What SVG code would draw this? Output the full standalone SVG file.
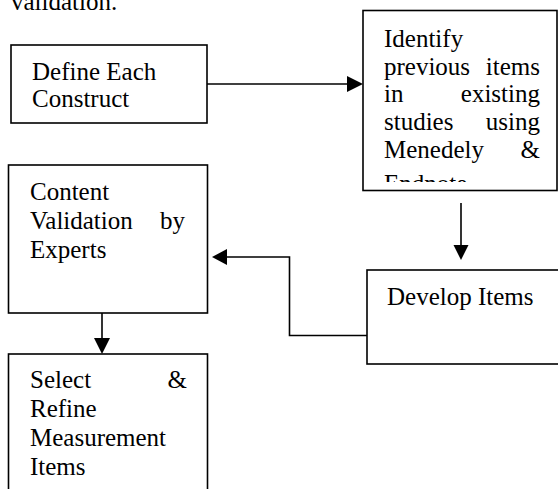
<svg xmlns="http://www.w3.org/2000/svg" width="558" height="489" viewBox="0 0 558 489">
<style>
text{font-family:"Liberation Serif","Times New Roman",serif;font-size:25px;fill:#000}
.box{fill:#fff;stroke:#000;stroke-width:1.6}
.ln{fill:none;stroke:#000;stroke-width:1.6}
.ah{fill:#000;stroke:none}
.e{text-anchor:end}
</style>
<defs>
<clipPath id="clipId"><rect x="364" y="12" width="192" height="170"/></clipPath>
</defs>
<rect width="558" height="489" fill="#fff"/>
<text x="11" y="10">validation.</text>
<g id="connectors">
<line class="ln" x1="207" y1="84" x2="348" y2="84"/>
<polygon class="ah" points="347,76 363,84 347,92"/>
<line class="ln" x1="461" y1="203" x2="461" y2="246"/>
<polygon class="ah" points="453.5,245 461,260 468.5,245"/>
<polyline class="ln" points="367,335.5 289.5,335.5 289.5,257 226,257"/>
<polygon class="ah" points="227,249 212,257 227,265"/>
<line class="ln" x1="102" y1="307" x2="102" y2="339"/>
<polygon class="ah" points="94,338 102,354 110,338"/>
</g>
<g id="define">
<rect class="box" x="11" y="45" width="196" height="78"/>
<text x="32" y="80">Define Each</text>
<text x="32" y="107">Construct</text>
</g>
<g id="identify">
<rect class="box" x="363" y="10.5" width="194" height="180"/>
<g clip-path="url(#clipId)">
<text x="384" y="47">Identify</text>
<text x="384" y="75">previous</text><text class="e" x="540" y="75">items</text>
<text x="384" y="102">in</text><text class="e" x="540" y="102">existing</text>
<text x="384" y="130">studies</text><text class="e" x="540" y="130">using</text>
<text x="384" y="158">Menedely</text><text class="e" x="540" y="158">&amp;</text>
<text x="384" y="192">Endnote</text>
</g>
</g>
<g id="content">
<rect class="box" x="8.5" y="165" width="199" height="148"/>
<text x="30" y="200">Content</text>
<text x="30" y="229">Validation</text><text class="e" x="185" y="229">by</text>
<text x="30" y="258">Experts</text>
</g>
<g id="develop">
<rect class="box" x="367" y="270" width="200" height="94"/>
<text x="387" y="305">Develop Items</text>
</g>
<g id="select">
<rect class="box" x="8.5" y="354" width="199" height="150"/>
<text x="30" y="388">Select</text><text class="e" x="187" y="388">&amp;</text>
<text x="30" y="417">Refine</text>
<text x="30" y="446">Measurement</text>
<text x="30" y="475">Items</text>
</g>
</svg>
